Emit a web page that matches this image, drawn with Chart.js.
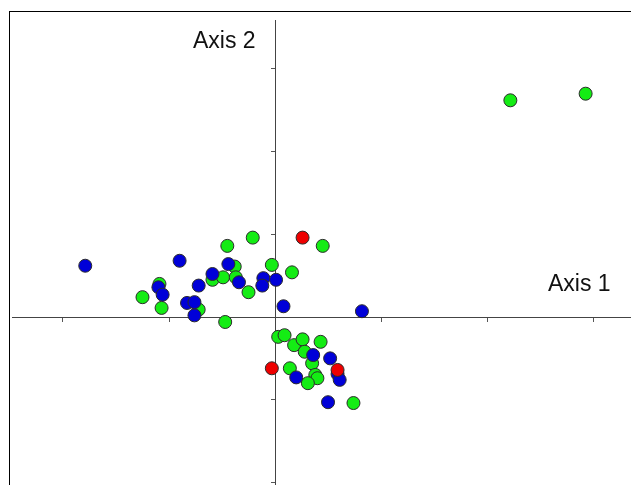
<!DOCTYPE html>
<html>
<head>
<meta charset="utf-8">
<script src="https://cdn.jsdelivr.net/npm/chart.js@4.4.1/dist/chart.umd.min.js"></script>
<style>
  html, body { margin: 0; padding: 0; background: #fff; overflow: hidden; }
  #wrap { position: relative; width: 631px; height: 485px; }
  #frame { position: absolute; left: 9px; top: 11px; width: 700px; height: 600px;
           border-left: 1px solid #000; border-top: 1px solid #000; }
  #c { position: absolute; left: 0; top: 0; }
</style>
</head>
<body>
<div id="wrap">
  <div id="frame"></div>
  <canvas id="c" width="631" height="485"></canvas>
</div>
<script>
// Ordination scores (axis 1, axis 2), in tick units
const GREEN_X = [2.22, 2.93, -1.25, -1.09, -1.07, -0.45, -0.21, -0.38, -0.59, -0.49, -0.37, -0.25,
                 -0.03, 0.16, 0.45, -0.72, -0.47, 0.03, 0.09, 0.18, 0.26, 0.43, 0.28, 0.35,
                 0.14, 0.38, 0.40, 0.31, 0.74];
const GREEN_Y = [2.62, 2.70, 0.24, 0.40, 0.11, 0.86, 0.96, 0.61, 0.45, 0.48, 0.48, 0.30,
                 0.63, 0.54, 0.86, 0.09, -0.06, -0.24, -0.22, -0.34, -0.27, -0.30, -0.42, -0.56,
                 -0.62, -0.70, -0.74, -0.80, -1.04];

const BLUE_X = [-1.79, -0.90, -1.10, -1.06, -0.44, -0.59, -0.34, -0.11, -0.12, 0.01, -0.72,
                -0.83, -0.76, -0.76, 0.08, 0.82, 0.36, 0.52, 0.20, 0.59, 0.61, 0.50];
const BLUE_Y = [0.62, 0.68, 0.36, 0.27, 0.64, 0.52, 0.42, 0.47, 0.38, 0.45, 0.38,
                0.17, 0.18, 0.02, 0.13, 0.07, -0.46, -0.50, -0.73, -0.69, -0.76, -1.03];

const RED_X = [0.26, -0.03, 0.59];
const RED_Y = [0.96, -0.62, -0.64];

const AXIS_TICKS = [-2, -1, 0, 1, 2, 3];
const AXIS_LABELS = ['Axis 1', 'Axis 2'];

(function () {
  'use strict';

  const pts = (xs, ys) => xs.map((x, i) => ({ x, y: ys[i] }));

  function set(data, color) {
    return {
      data,
      backgroundColor: color,
      borderColor: '#2b2b2b',
      borderWidth: 1,
      pointRadius: 6.5,
      pointHoverRadius: 6.5,
    };
  }

  // "Axis 1" / "Axis 2" captions sit inside the plot, not as scale titles
  const captions = {
    id: 'captions',
    afterDraw(chart) {
      const ctx = chart.ctx;
      ctx.save();
      ctx.fillStyle = '#111';
      ctx.font = '23px "Liberation Sans", Arial, sans-serif';
      ctx.textAlign = 'left';
      ctx.textBaseline = 'alphabetic';
      ctx.fillText(AXIS_LABELS[1], 193, 48);
      ctx.fillText(AXIS_LABELS[0], 548, 291);
      ctx.restore();
    },
  };

  const axis = (pos) => ({
    type: 'linear',
    position: pos,
    afterBuildTicks: (s) => { s.ticks = AXIS_TICKS.map(v => ({ value: v })); },
    ticks: { display: false },
    grid: { drawOnChartArea: false, drawTicks: true, tickLength: 4, color: '#555', lineWidth: 1 },
    border: { display: true, color: '#444', width: 1 },
  });

  const xAxis = Object.assign(axis({ y: 0 }), { min: -2.481, max: 3.358 });
  const yAxis = Object.assign(axis({ x: 0 }), { min: -2.031, max: 3.591 });

  new Chart(document.getElementById('c'), {
    type: 'scatter',
    data: {
      datasets: [
        set(pts(RED_X, RED_Y), '#ee0000'),
        set(pts(BLUE_X, BLUE_Y), '#0000d8'),
        set(pts(GREEN_X, GREEN_Y), '#14ec14'),
      ],
    },
    options: {
      responsive: false, animation: false,
      layout: { autoPadding: false, padding: { left: 12, top: 20, right: 0, bottom: 0 } },
      plugins: { legend: { display: false }, tooltip: { enabled: false } },
      scales: { x: xAxis, y: yAxis },
    },
    plugins: [captions],
  });
})();
</script>
</body>
</html>
